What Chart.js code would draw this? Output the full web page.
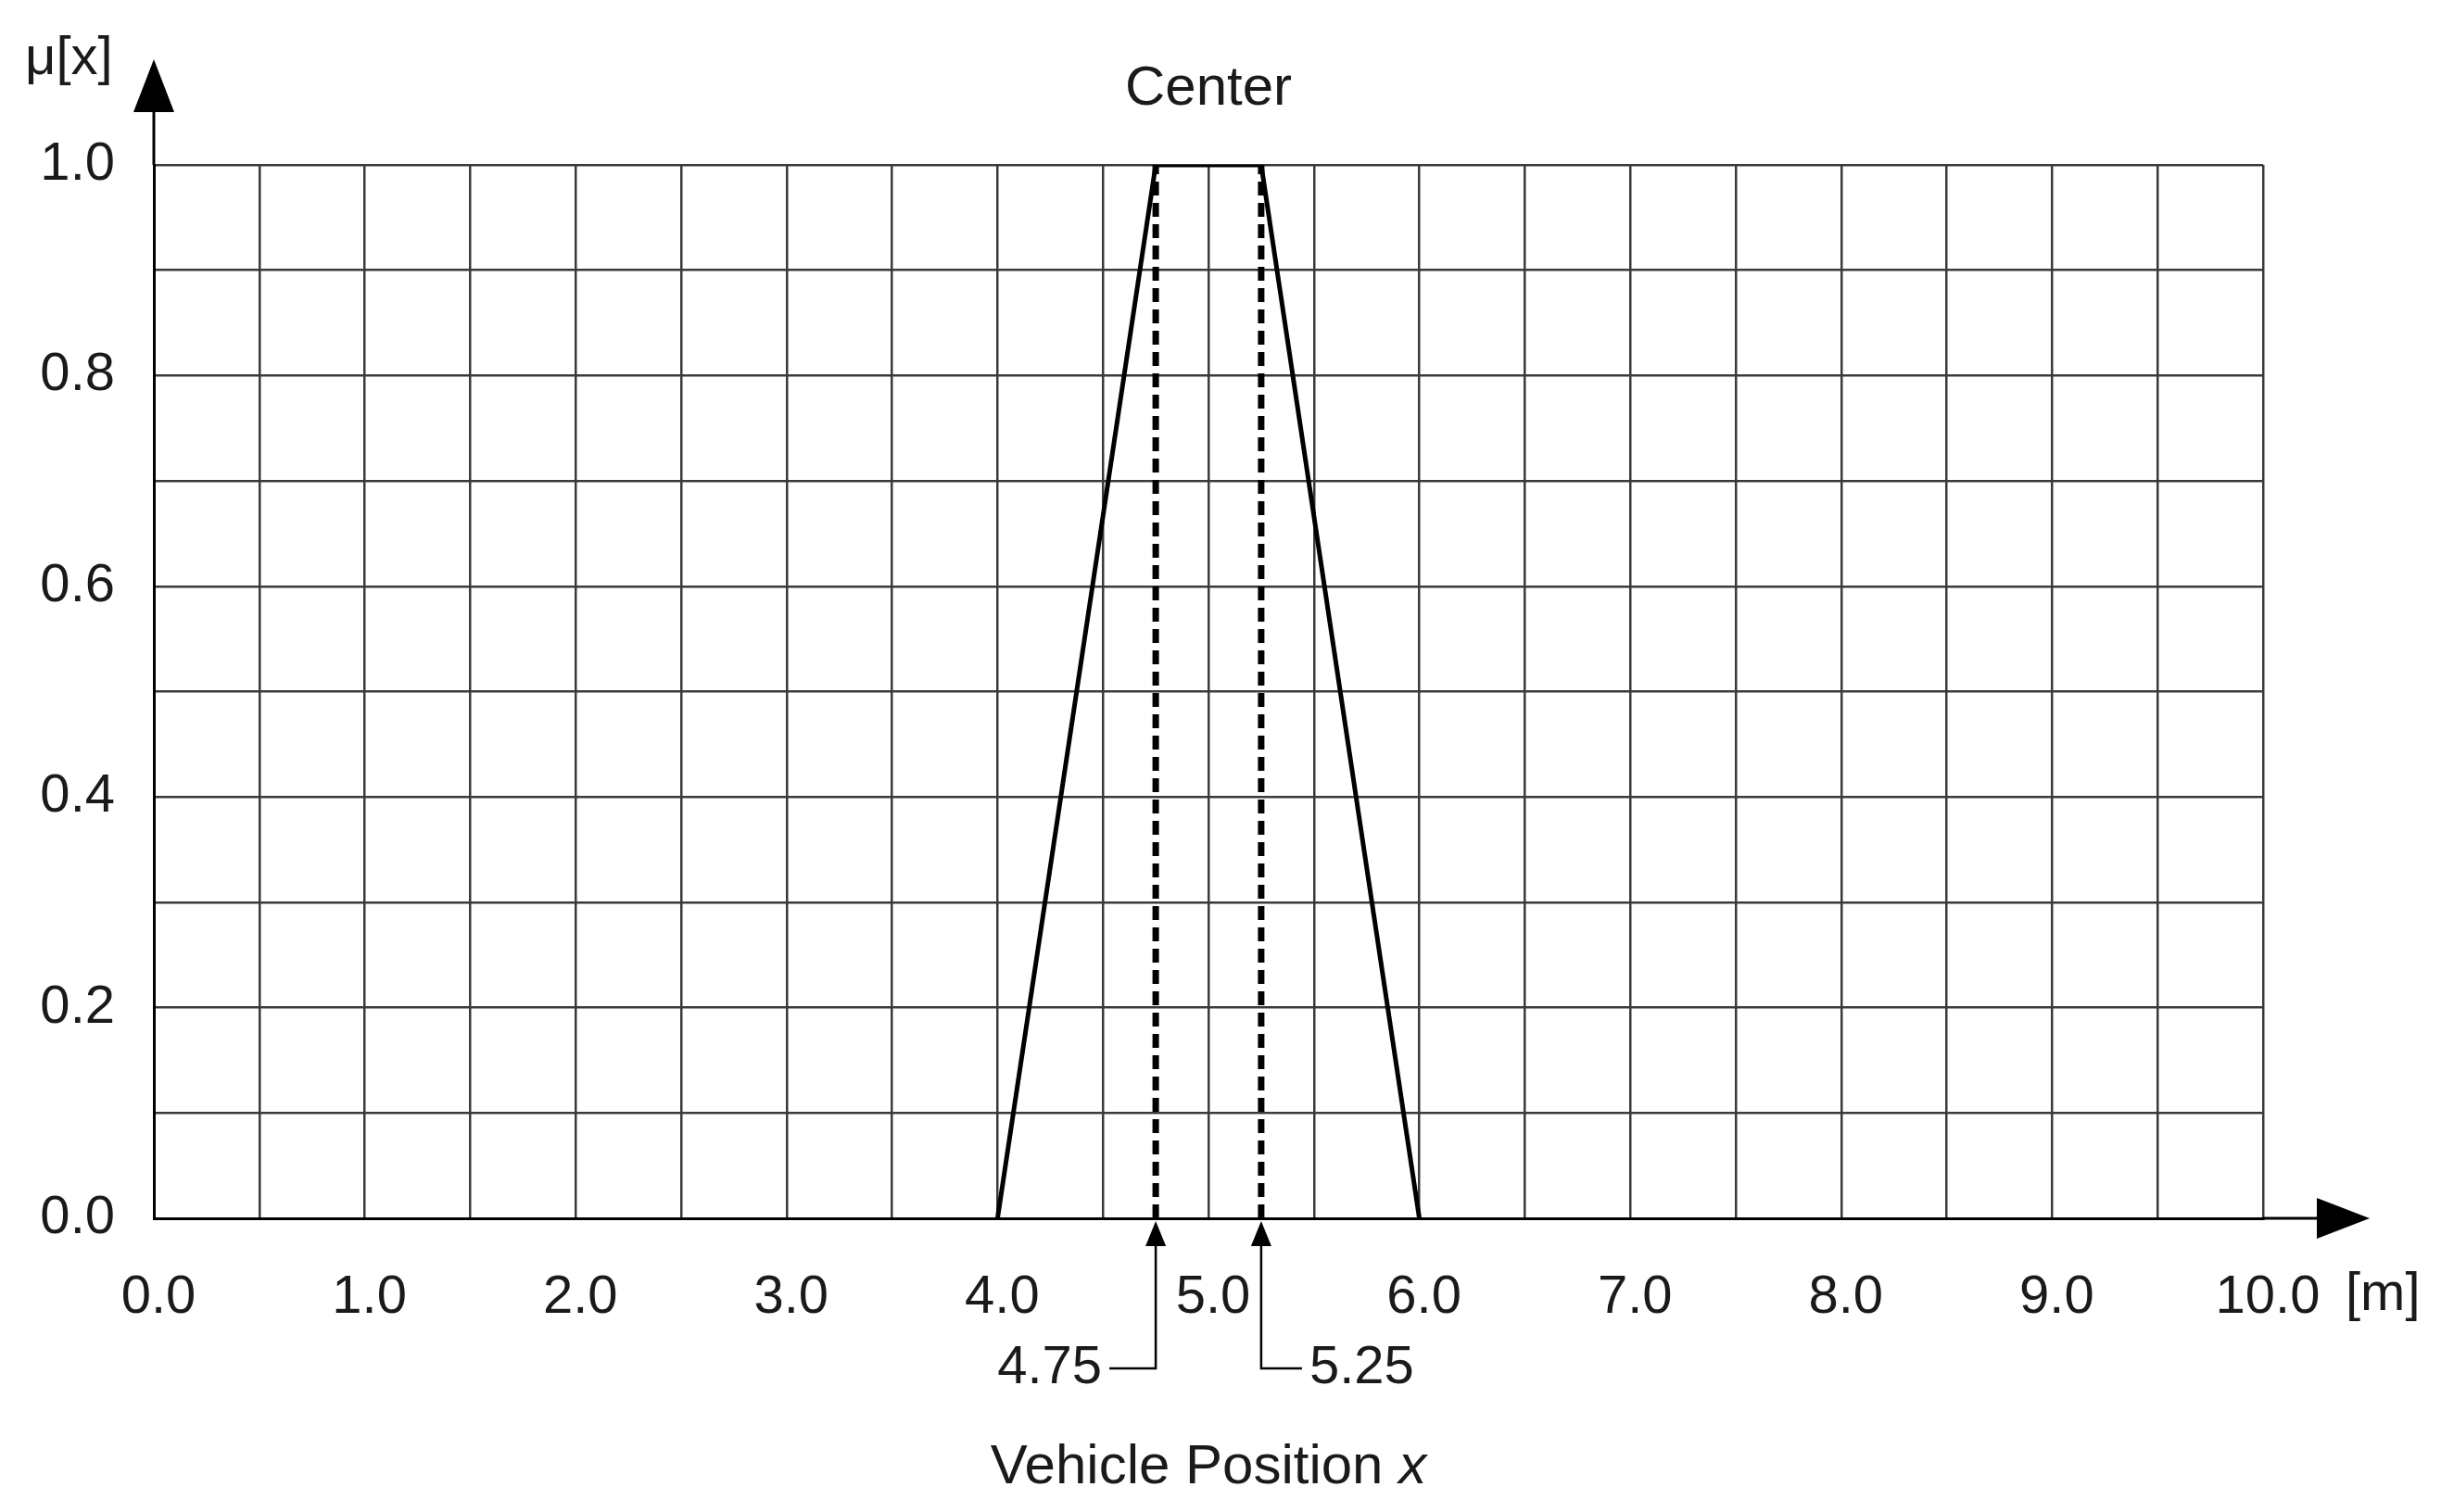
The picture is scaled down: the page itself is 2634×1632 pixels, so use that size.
<!DOCTYPE html>
<html>
<head>
<meta charset="utf-8">
<script src="https://cdn.jsdelivr.net/npm/chart.js@4/dist/chart.umd.min.js"></script>
<style>
  html, body { margin: 0; padding: 0; background: #fff; }
  #wrap { width: 2634px; height: 1632px; position: relative; }
</style>
</head>
<body>
<div id="wrap"><canvas id="chart"></canvas></div>
<script>
// membership function "Center" (trapezoid)
const centerX = [4.0, 4.75, 5.25, 6.0];
const centerY = [0, 1, 1, 0];
// marked positions (dashed verticals)
const markerX = [4.75, 5.25];
const markerLabels = ['4.75', '5.25'];
// axes
const xMin = 0, xMax = 10, xStep = 0.5;
const yMin = 0, yMax = 1, yStep = 0.1;

const FONT = '"Liberation Sans", Arial, Helvetica, sans-serif';
const INK = '#1a1a1a';
const GRID = '#3a3a3a';

const datasets = [{
  label: 'Center',
  data: centerX.map((x, i) => ({ x: x, y: centerY[i] })),
  showLine: true,
  borderColor: '#000',
  borderWidth: 5,
  pointRadius: 0,
  tension: 0
}];
markerX.forEach(mx => {
  datasets.push({
    label: 'x = ' + mx,
    data: [{ x: mx, y: yMin }, { x: mx, y: yMax }],
    showLine: true,
    borderColor: '#000',
    borderWidth: 7,
    borderDash: [15, 8],
    pointRadius: 0
  });
});

// axis arrows, labels and marker call-outs
const annotations = {
  id: 'annotations',
  afterDraw(chart) {
    const ctx = chart.ctx;
    const area = chart.chartArea;
    const xs = chart.scales.x;
    ctx.save();
    ctx.fillStyle = '#000';
    ctx.strokeStyle = '#000';
    ctx.lineWidth = 3;

    // y axis arrow
    ctx.beginPath();
    ctx.moveTo(area.left, area.top);
    ctx.lineTo(area.left, 120);
    ctx.stroke();
    ctx.beginPath();
    ctx.moveTo(area.left, 64);
    ctx.lineTo(area.left - 22, 121);
    ctx.lineTo(area.left + 22, 121);
    ctx.closePath();
    ctx.fill();

    // x axis arrow
    ctx.beginPath();
    ctx.moveTo(area.right, area.bottom);
    ctx.lineTo(2502, area.bottom);
    ctx.stroke();
    ctx.beginPath();
    ctx.moveTo(2557, area.bottom);
    ctx.lineTo(2500, area.bottom - 22);
    ctx.lineTo(2500, area.bottom + 22);
    ctx.closePath();
    ctx.fill();

    // marker arrows below the axis
    ctx.lineWidth = 2.5;
    markerX.forEach((mx, i) => {
      const px = xs.getPixelForValue(mx);
      const yLab = 1477;
      const dir = i === 0 ? -1 : 1;
      const arm = i === 0 ? 50 : 44;
      ctx.beginPath();
      ctx.moveTo(px, area.bottom + 20);
      ctx.lineTo(px, yLab);
      ctx.lineTo(px + dir * arm, yLab);
      ctx.stroke();
      ctx.beginPath();
      ctx.moveTo(px, area.bottom + 3);
      ctx.lineTo(px - 11, area.bottom + 30);
      ctx.lineTo(px + 11, area.bottom + 30);
      ctx.closePath();
      ctx.fill();

      ctx.fillStyle = INK;
      ctx.font = '58px ' + FONT;
      ctx.textBaseline = 'middle';
      ctx.textAlign = i === 0 ? 'right' : 'left';
      ctx.fillText(markerLabels[i], px + dir * (arm + 8), yLab);
      ctx.fillStyle = '#000';
    });

    // texts
    ctx.fillStyle = INK;
    ctx.textBaseline = 'middle';
    ctx.font = '60px ' + FONT;
    ctx.textAlign = 'center';
    ctx.fillText('Center', (area.left + area.right) / 2, 96);

    ctx.textAlign = 'left';
    ctx.font = '58px ' + FONT;
    ctx.fillText('\u03bc[x]', 27, 64);
    ctx.fillText('[m]', 2531, 1398);

    // x axis title with italic x
    const t1 = 'Vehicle Position ';
    const t2 = 'x';
    const size = 60;
    ctx.font = size + 'px ' + FONT;
    const w1 = ctx.measureText(t1).width;
    ctx.font = 'italic ' + size + 'px ' + FONT;
    const w2 = ctx.measureText(t2).width;
    const cx = (area.left + area.right) / 2;
    const start = cx - (w1 + w2) / 2;
    ctx.font = size + 'px ' + FONT;
    ctx.fillText(t1, start, 1584);
    ctx.font = 'italic ' + size + 'px ' + FONT;
    ctx.fillText(t2, start + w1, 1584);

    ctx.restore();
  }
};

new Chart(document.getElementById('chart'), {
  type: 'scatter',
  data: { datasets: datasets },
  options: {
    responsive: true,
    maintainAspectRatio: false,
    animation: false,
    layout: { padding: { left: 0, top: 178, right: 192, bottom: 0 } },
    plugins: {
      legend: { display: false },
      tooltip: { enabled: false }
    },
    scales: {
      x: {
        type: 'linear',
        min: xMin,
        max: xMax,
        afterFit(scale) { scale.height = 317; },
        grid: { color: GRID, lineWidth: 2.5, drawTicks: false },
        border: { display: true, color: '#000', width: 3 },
        ticks: {
          stepSize: xStep,
          autoSkip: false,
          maxRotation: 0,
          padding: 51,
          labelOffset: 5,
          color: INK,
          font: { family: FONT, size: 58 },
          callback: v => (Math.abs(v % 1) < 1e-9 ? v.toFixed(1) : '')
        }
      },
      y: {
        type: 'linear',
        min: yMin,
        max: yMax,
        afterFit(scale) { scale.width = 166; },
        grid: { color: GRID, lineWidth: 2.5, drawTicks: false },
        border: { display: true, color: '#000', width: 3 },
        ticks: {
          stepSize: yStep,
          autoSkip: false,
          padding: 42,
          color: INK,
          font: { family: FONT, size: 58 },
          callback: v => {
            const n = Math.round(v * 10);
            return n % 2 === 0 ? (n / 10).toFixed(1) : '';
          }
        }
      }
    }
  },
  plugins: [annotations]
});
</script>
</body>
</html>
